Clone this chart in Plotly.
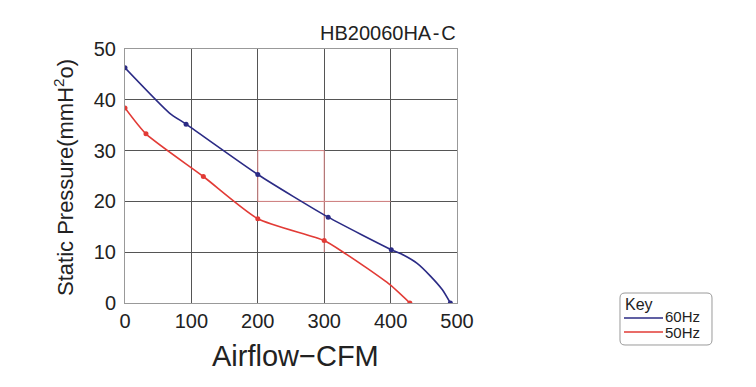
import plotly.graph_objects as go
import re

# Data
hz60_x = [0, 67, 92, 200, 306, 401, 420, 440, 460, 478, 490]
hz60_y = [46.3, 37.4, 35.2, 25.3, 16.9, 10.5, 9.4, 7.8, 5.3, 2.6, 0]
hz60_mx = [0, 92, 200, 306, 401, 490]
hz60_my = [46.3, 35.2, 25.3, 16.9, 10.5, 0]

hz50_x = [0, 31.6, 118, 200, 300, 331, 365, 399, 429]
hz50_y = [38.4, 33.3, 24.9, 16.6, 12.3, 9.8, 6.8, 3.6, 0]
hz50_mx = [0, 31.6, 118, 200, 300, 429]
hz50_my = [38.4, 33.3, 24.9, 16.6, 12.3, 0]

ref_x = [200, 200, 300, 300, None, 200, 400]
ref_y = [20, 30, 30, 10, None, 20, 20]

x_ticks = [0, 100, 200, 300, 400, 500]
y_ticks = [0, 10, 20, 30, 40, 50]

BLUE = "#2b2b85"
RED = "#e23b36"
FONT = "Liberation Sans, Arial, sans-serif"

fig = go.Figure()
fig.add_trace(go.Scatter(x=ref_x, y=ref_y, mode="lines",
                         line=dict(color="#de8a8a", width=1),
                         hoverinfo="skip", showlegend=False))
fig.add_trace(go.Scatter(x=hz60_x, y=hz60_y, mode="lines", line=dict(color=BLUE, width=1.6, shape="spline", smoothing=0.6), showlegend=False))
fig.add_trace(go.Scatter(x=hz50_x, y=hz50_y, mode="lines", line=dict(color=RED, width=1.6, shape="spline", smoothing=0.6), showlegend=False))
fig.add_trace(go.Scatter(x=hz60_mx, y=hz60_my, mode="markers", marker=dict(color=BLUE, size=5), showlegend=False))
fig.add_trace(go.Scatter(x=hz50_mx, y=hz50_my, mode="markers", marker=dict(color=RED, size=5), showlegend=False))

W, H = 756, 387
OFF = 8  # page body margin in the browser
L, R, T, B = 125 - OFF, 457 - OFF, 49 - OFF, 303 - OFF
pw, ph = R - L, B - T

def px(x):
    return (x - OFF - L) / pw

def py(y):
    return (B - (y - OFF)) / ph

# rounded legend box (reference pixel coords)
x0, x1, y0, y1, r = 620, 712, 293, 345, 5
path = (f"M {x0+r},{y0} L {x1-r},{y0} Q {x1},{y0} {x1},{y0+r} L {x1},{y1-r} Q {x1},{y1} {x1-r},{y1} "
        f"L {x0+r},{y1} Q {x0},{y1} {x0},{y1-r} L {x0},{y0+r} Q {x0},{y0} {x0+r},{y0} Z")

def conv(m):
    a, b = float(m.group(1)), float(m.group(2))
    return f"{px(a):.5f},{py(b):.5f}"
path_paper = re.sub(r"([\d.]+),([\d.]+)", conv, path)

shapes = [
    dict(type="path", xref="paper", yref="paper", path=path_paper,
         line=dict(color="#9a9a9a", width=1), fillcolor="rgba(0,0,0,0)"),
    dict(type="line", xref="paper", yref="paper", x0=px(624), x1=px(663), y0=py(318), y1=py(318),
         line=dict(color=BLUE, width=1.6)),
    dict(type="line", xref="paper", yref="paper", x0=px(624), x1=px(663), y0=py(332), y1=py(332),
         line=dict(color=RED, width=1.6)),
]

annotations = [
    dict(text="HB20060HA\u200a-\u200aC", xref="paper", yref="paper", x=px(458), y=py(33), xanchor="right", yanchor="middle",
         showarrow=False, font=dict(size=20, color="#222", family=FONT)),
    dict(text="Key", xref="paper", yref="paper", x=px(623), y=py(304), xanchor="left", yanchor="middle",
         showarrow=False, font=dict(size=16, color="#222", family=FONT)),
    dict(text="60Hz", xref="paper", yref="paper", x=px(663), y=py(316), xanchor="left", yanchor="middle",
         showarrow=False, font=dict(size=15, color="#222", family=FONT)),
    dict(text="50Hz", xref="paper", yref="paper", x=px(663), y=py(332), xanchor="left", yanchor="middle",
         showarrow=False, font=dict(size=15, color="#222", family=FONT)),
    dict(text="Airflow−CFM", xref="paper", yref="paper", x=px(295), y=py(356), xanchor="center", yanchor="middle",
         showarrow=False, font=dict(size=29, color="#222", family=FONT)),
    dict(text="Static Pressure(mmH<sup>2</sup>o)", xref="paper", yref="paper", x=px(64), y=py(178),
         xanchor="center", yanchor="middle", textangle=-90,
         showarrow=False, font=dict(size=22, color="#222", family=FONT)),
]

fig.update_layout(
    width=W, height=H,
    margin=dict(l=L, r=W - R, t=T, b=H - B),
    paper_bgcolor="white", plot_bgcolor="white",
    font=dict(family=FONT, color="#222"),
    shapes=shapes, annotations=annotations,
    showlegend=False,
)
fig.update_xaxes(range=[0, 500], tickvals=x_ticks, ticktext=[str(v) for v in x_ticks],
                 showgrid=True, gridcolor="#555", gridwidth=1, zeroline=False,
                 showline=True, linecolor="#999", mirror=True,
                 ticks="", automargin=False,
                 tickfont=dict(size=20, color="#222", family=FONT))
fig.update_yaxes(range=[0, 50], tickvals=y_ticks, ticktext=[str(v) for v in y_ticks],
                 showgrid=True, gridcolor="#555", gridwidth=1, zeroline=False,
                 showline=True, linecolor="#999", mirror=True,
                 ticks="outside", ticklen=4, tickcolor="rgba(0,0,0,0)", automargin=False,
                 tickfont=dict(size=20, color="#222", family=FONT))

fig.write_html("out.html")
